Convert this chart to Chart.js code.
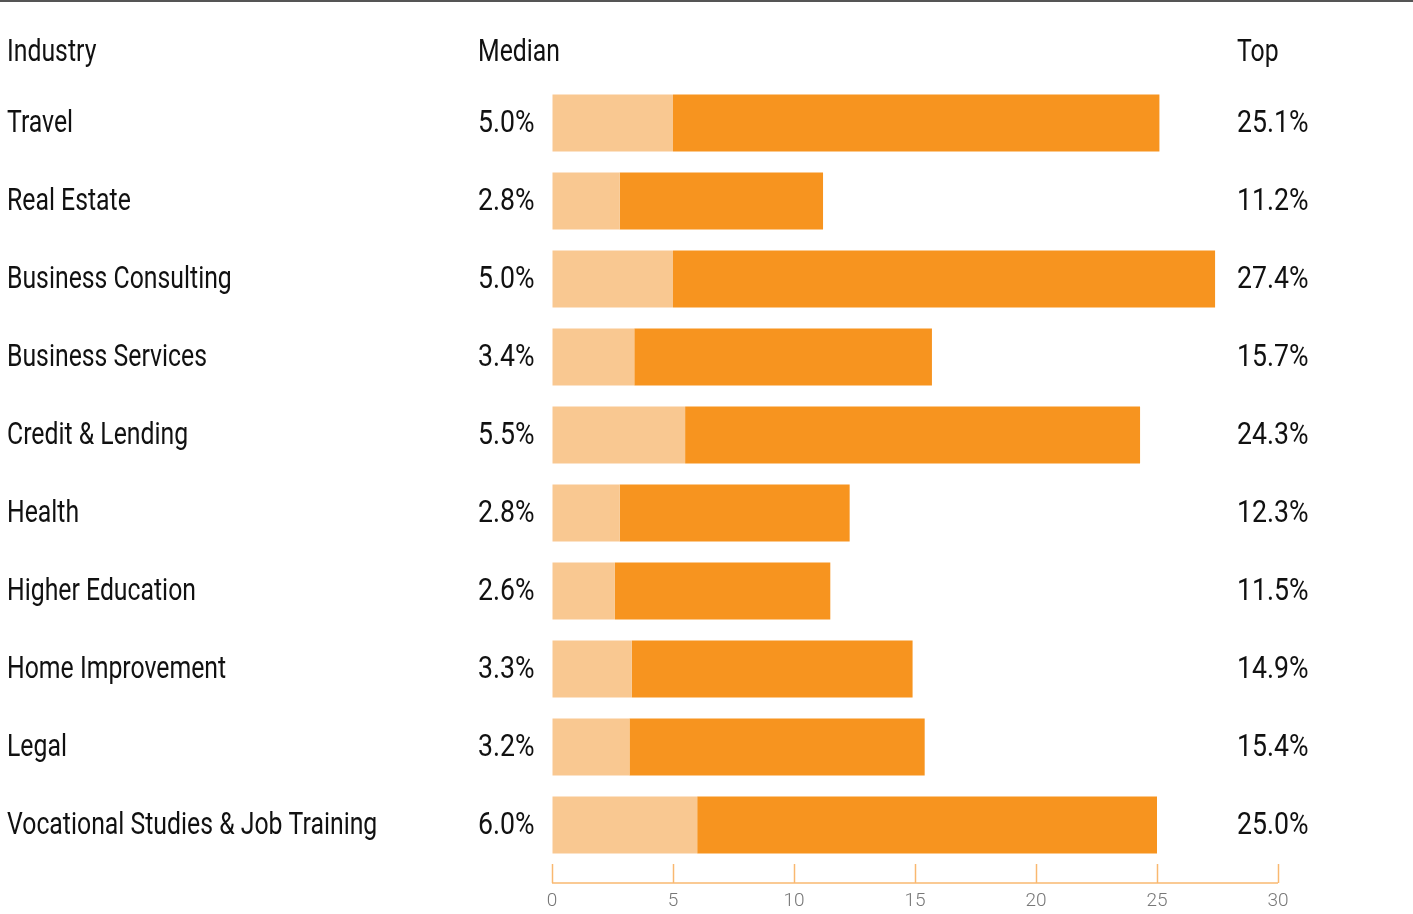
<!DOCTYPE html>
<html>
<head>
<meta charset="utf-8">
<script src="https://cdn.jsdelivr.net/npm/chart.js@4.4.1/dist/chart.umd.min.js"></script>
<style>
  html, body { margin: 0; padding: 0; background: #ffffff; overflow: hidden; }
  #wrap { width: 1413px; height: 914px; position: relative; }
  canvas { display: block; }
</style>
</head>
<body>
<div id="wrap"><canvas id="chart" width="1413" height="914"></canvas></div>
<script>
// Conversion rate by industry: median and top performers (percent)
const industries = [
  'Travel', 'Real Estate', 'Business Consulting', 'Business Services',
  'Credit & Lending', 'Health', 'Higher Education', 'Home Improvement',
  'Legal', 'Vocational Studies & Job Training'
];
const medianRates = [5.0, 2.8, 5.0, 3.4, 5.5, 2.8, 2.6, 3.3, 3.2, 6.0];
const topRates = [25.1, 11.2, 27.4, 15.7, 24.3, 12.3, 11.5, 14.9, 15.4, 25.0];
const xTicks = [0, 5, 10, 15, 20, 25, 30];
const headers = ['Industry', 'Median', 'Top'];

const LIGHT = '#f9c891';
const DARK = '#f7941f';
const AXIS = '#f9b870';
const FONT = "Roboto, 'Liberation Sans', sans-serif";
const WEIGHT = 400;
const SQUEEZE = 0.8; // horizontal condensing of the table text

function condensedText(ctx, text, x, y, size, color, squeeze) {
  ctx.save();
  ctx.font = WEIGHT + ' ' + size + 'px ' + FONT;
  ctx.fillStyle = color;
  ctx.textAlign = 'left';
  ctx.textBaseline = 'alphabetic';
  ctx.translate(x, y);
  ctx.scale(squeeze || SQUEEZE, 1);
  ctx.fillText(text, 0, 0);
  ctx.restore();
}

// Draws the rule at the top, the column headers, the row text and the axis baseline
const tablePlugin = {
  id: 'tableText',
  afterDraw(chart) {
    const ctx = chart.ctx;
    const yScale = chart.scales.y;
    const xScale = chart.scales.x;

    ctx.save();
    ctx.fillStyle = '#555555';
    ctx.fillRect(0, 0, chart.width, 2);
    ctx.restore();

    const colName = 7, colMedian = 478, colTop = 1237;
    condensedText(ctx, headers[0], colName, 61, 31, '#111111');
    condensedText(ctx, headers[1], colMedian, 61, 31, '#111111');
    condensedText(ctx, headers[2], colTop, 61, 31, '#111111');

    industries.forEach((name, i) => {
      const y = yScale.getPixelForValue(i) + 9;
      condensedText(ctx, name, colName, y, 31, '#111111');
      condensedText(ctx, medianRates[i].toFixed(1) + '%', colMedian, y, 31, '#111111', 0.86);
      condensedText(ctx, topRates[i].toFixed(1) + '%', colTop, y, 31, '#111111', 0.86);
    });

    const baseY = xScale.top + 19;
    ctx.save();
    ctx.strokeStyle = AXIS;
    ctx.lineWidth = 1.5;
    ctx.beginPath();
    ctx.moveTo(xScale.getPixelForValue(xTicks[0]), baseY);
    ctx.lineTo(xScale.getPixelForValue(xTicks[xTicks.length - 1]), baseY);
    ctx.stroke();
    ctx.restore();
  }
};

new Chart(document.getElementById('chart'), {
  type: 'bar',
  data: {
    labels: industries,
    datasets: [
      {
        label: 'Median',
        data: medianRates,
        backgroundColor: LIGHT,
        borderWidth: 0,
        barPercentage: 0.73,
        categoryPercentage: 1.0
      },
      {
        label: 'Top',
        data: topRates.map((t, i) => t - medianRates[i]),
        backgroundColor: DARK,
        borderWidth: 0,
        barPercentage: 0.73,
        categoryPercentage: 1.0
      }
    ]
  },
  options: {
    indexAxis: 'y',
    responsive: false,
    animation: false,
    layout: { padding: { left: 552, right: 135, top: 84, bottom: 0 } },
    plugins: {
      legend: { display: false },
      tooltip: { enabled: false }
    },
    scales: {
      x: {
        stacked: true,
        min: xTicks[0],
        max: xTicks[xTicks.length - 1],
        afterBuildTicks(scale) {
          scale.ticks = xTicks.map(v => ({ value: v }));
        },
        afterFit(scale) { scale.height = 50; },
        border: { display: false },
        grid: {
          drawOnChartArea: false,
          drawTicks: true,
          tickLength: 19,
          tickWidth: 1.5,
          tickColor: AXIS
        },
        ticks: {
          padding: 7,
          color: '#777777',
          font: { family: FONT, size: 19, weight: 300 },
          maxRotation: 0
        }
      },
      y: {
        stacked: true,
        display: false
      }
    }
  },
  plugins: [tablePlugin]
});
</script>
</body>
</html>
